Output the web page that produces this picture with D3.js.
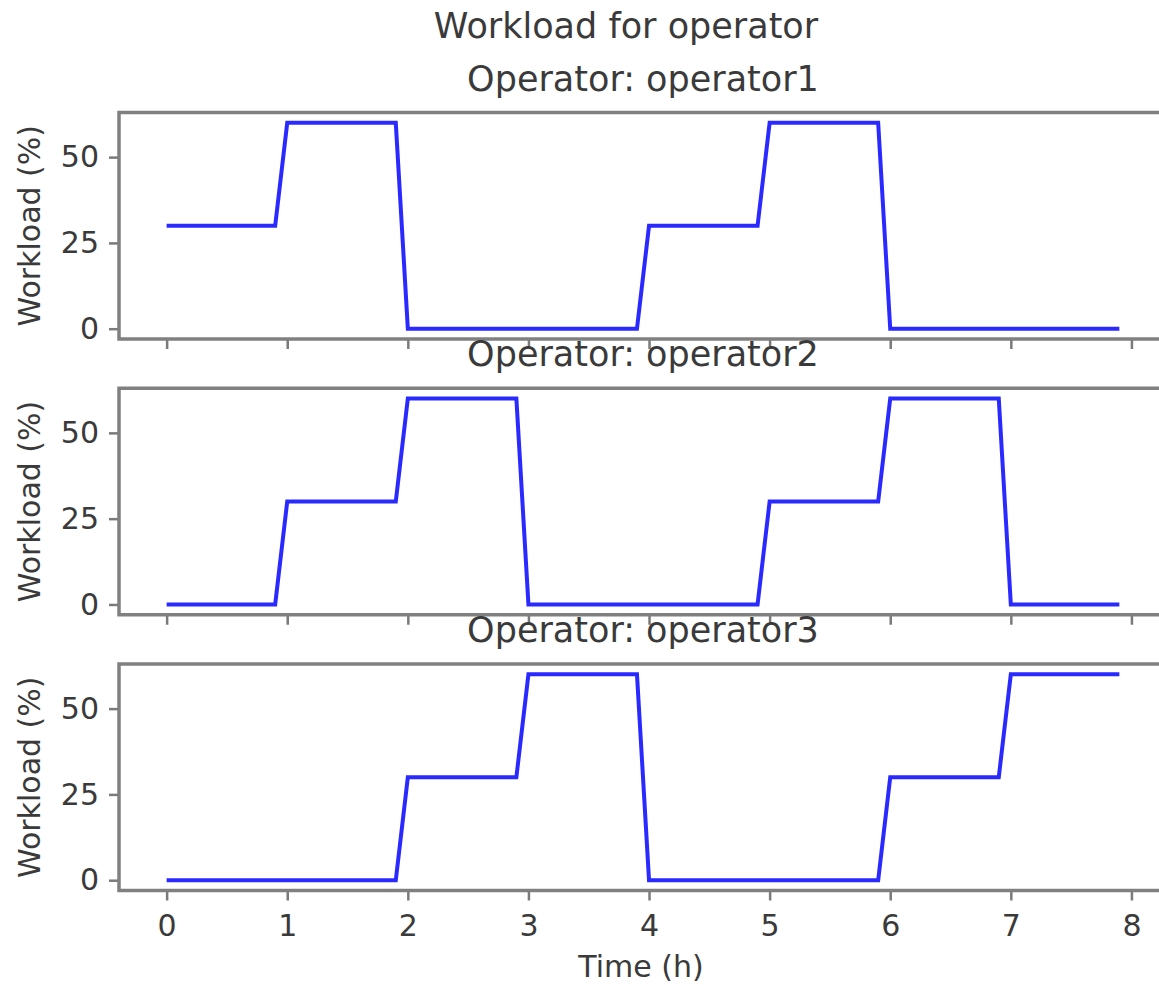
<html>
<head>
<title>Workload for operator</title>
<meta charset="utf-8">
<style type="text/css">
body { margin: 0; background: #fff; }
text { font-family: "DejaVu Sans", sans-serif; fill: #3a3a3a; }
</style>
</head>
<body>
<script src="https://d3js.org/d3.v7.min.js"></script>
<script>

// data: value held for each hour, ramp in the last tenth
var times = [0, 0.9, 1, 1.9, 2, 2.9, 3, 3.9, 4, 4.9, 5, 5.9, 6, 6.9, 7, 7.9];
var operator1 = [30, 30, 60, 60, 0, 0, 0, 0, 30, 30, 60, 60, 0, 0, 0, 0];
var operator2 = [0, 0, 30, 30, 60, 60, 0, 0, 0, 0, 30, 30, 60, 60, 0, 0];
var operator3 = [0, 0, 0, 0, 30, 30, 60, 60, 0, 0, 0, 0, 30, 30, 60, 60];
var operatorNames = ["operator1", "operator2", "operator3"];
var xTicks = [0, 1, 2, 3, 4, 5, 6, 7, 8];
var yTicks = [0, 25, 50];

var series = [operator1, operator2, operator3];

var width = 1159, height = 985;
var left = 119, right = 1167;
var top0 = 112.5, step = 275.75, axH = 226.5;

var svg = d3.select("body").append("svg")
    .attr("width", width)
    .attr("height", height);

// x scale shared by all subplots (matplotlib 5% margins)
var x = d3.scaleLinear()
    .domain([-0.395, 8.295])
    .range([left, right]);

svg.append("text")
    .attr("x", 626)
    .attr("y", 38)
    .attr("text-anchor", "middle")
    .style("font-size", "35px")
    .text("Workload for operator");

series.forEach(function(vals, i) {
  var top = top0 + i * step;
  var y = d3.scaleLinear()
      .domain([-3, 63])
      .range([top + axH, top]);

  var g = svg.append("g");

  // the line
  var line = d3.line()
      .x(function(d, j) { return x(times[j]); })
      .y(function(d) { return y(d); });

  g.append("path")
      .datum(vals)
      .attr("fill", "none")
      .attr("stroke", "#2a2aff")
      .attr("stroke-width", 4)
      .attr("stroke-linejoin", "miter")
      .attr("d", line);

  // x axis: labels only on the bottom one
  var xAxis = d3.axisBottom(x)
      .tickValues(xTicks)
      .tickSize(10)
      .tickPadding(14)
      .tickFormat(i == series.length - 1 ? d3.format("d") : function() { return ""; });

  var gx = g.append("g")
      .attr("transform", "translate(0," + (top + axH) + ")")
      .call(xAxis);

  var gy = g.append("g")
      .attr("transform", "translate(" + left + ",0)")
      .call(d3.axisLeft(y).tickValues(yTicks).tickSize(10).tickPadding(10));

  [gx, gy].forEach(function(a) {
    a.select(".domain").remove();
    a.selectAll(".tick line").attr("stroke", "#7a7a7a").attr("stroke-width", 2.5);
    a.selectAll(".tick text")
        .style("font-size", "30px")
        .style("font-family", "DejaVu Sans")
        .attr("fill", "#3a3a3a");
  });

  // frame
  g.append("rect")
      .attr("x", left)
      .attr("y", top)
      .attr("width", right - left)
      .attr("height", axH)
      .attr("fill", "none")
      .attr("stroke", "#808080")
      .attr("stroke-width", 3.5);

  // y label
  g.append("text")
      .attr("transform", "translate(40," + (top + axH / 2) + ") rotate(-90)")
      .attr("text-anchor", "middle")
      .style("font-size", "30px")
      .text("Workload (%)");

  // subplot title
  g.append("text")
      .attr("x", (left + right) / 2)
      .attr("y", top - 22)
      .attr("text-anchor", "middle")
      .style("font-size", "35px")
      .text("Operator: " + operatorNames[i]);
});

svg.append("text")
    .attr("x", 641)
    .attr("y", 977)
    .attr("text-anchor", "middle")
    .style("font-size", "30px")
    .text("Time (h)");

</script>
</body>
</html>
